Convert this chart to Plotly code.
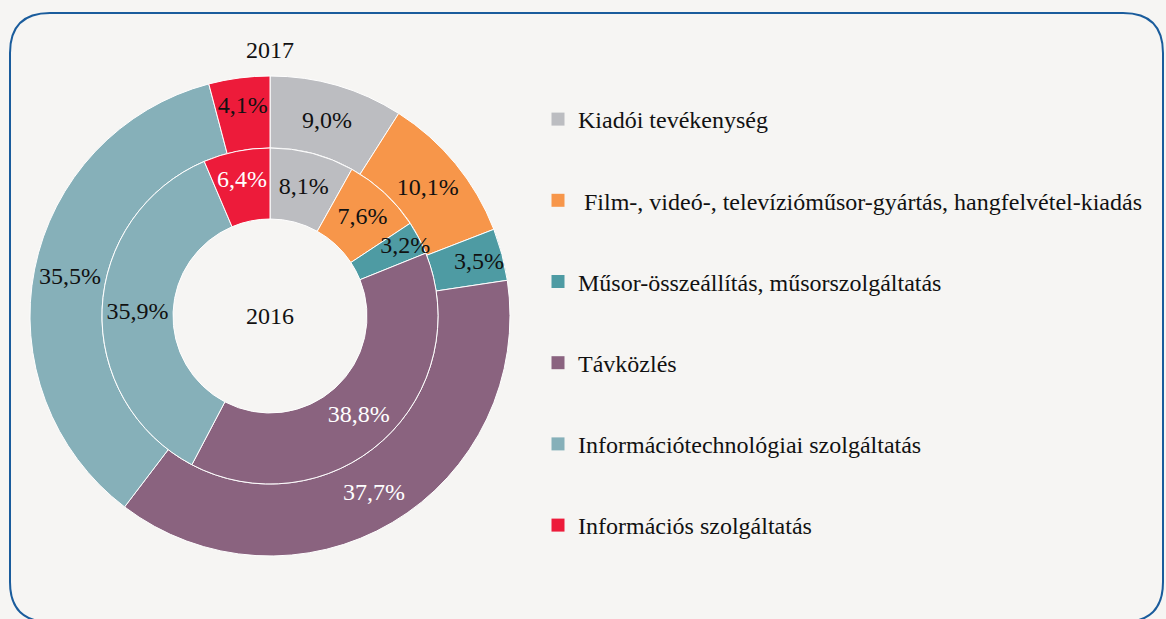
import plotly.graph_objects as go

labels = ["Kiadói tevékenység",
          " Film-, videó-, televízióműsor-gyártás, hangfelvétel-kiadás",
          "Műsor-összeállítás, műsorszolgáltatás",
          "Távközlés",
          "Információtechnológiai szolgáltatás",
          "Információs szolgáltatás"]
values_2017 = [9.0, 10.1, 3.5, 37.7, 35.5, 4.1]
values_2016 = [8.1, 7.6, 3.2, 38.8, 35.9, 6.4]
colors = ["#bcbdc1", "#f7964a", "#4e9ba3", "#8a637f", "#86b0b9", "#ed1b3a"]
text_col_2017 = ["#111", "#111", "#111", "#ffffff", "#111", "#111"]
text_col_2016 = ["#111", "#111", "#111", "#ffffff", "#111", "#ffffff"]

W, H = 1166, 619
FONT = "Liberation Serif"
FS = 24
BG = "#f6f5f3"

cx, cy = 270, 316
R_out, R_mid, R_in = 240, 168, 97

def dom(r):
    return dict(x=[(cx - r) / W, (cx + r) / W], y=[(H - cy - r) / H, (H - cy + r) / H])

fig = go.Figure()
fig.add_trace(go.Pie(labels=labels, values=values_2017, sort=False, direction="clockwise",
                     rotation=0, hole=R_mid / R_out, domain=dom(R_out),
                     marker=dict(colors=colors, line=dict(color="white", width=1)),
                     texttemplate="%{value:.1f}%", textposition="inside",
                     insidetextorientation="horizontal",
                     textfont=dict(family=FONT, size=FS, color=text_col_2017),
                     showlegend=False, name="2017"))
fig.add_trace(go.Pie(labels=labels, values=values_2016, sort=False, direction="clockwise",
                     rotation=0, hole=R_in / R_mid, domain=dom(R_mid),
                     marker=dict(colors=colors, line=dict(color="white", width=1)),
                     texttemplate="%{value:.1f}%", textposition="inside",
                     insidetextorientation="horizontal",
                     textfont=dict(family=FONT, size=FS, color=text_col_2016),
                     showlegend=False, name="2016"))

for lab, col in zip(labels, colors):
    fig.add_trace(go.Scatter(x=[None], y=[None], mode="markers", name=lab,
                             legendgroup=lab,
                             marker=dict(symbol="square", size=13, color=col)))

# rounded border
x0, x1 = 10 / W, 1163 / W
y0, y1 = 1 - 622 / H, 1 - 13 / H
rx, ry = 40 / W, 40 / H
path = (f"M {x0+rx},{y1} L {x1-rx},{y1} Q {x1},{y1} {x1},{y1-ry} "
        f"L {x1},{y0+ry} Q {x1},{y0} {x1-rx},{y0} L {x0+rx},{y0} "
        f"Q {x0},{y0} {x0},{y0+ry} L {x0},{y1-ry} Q {x0},{y1} {x0+rx},{y1} Z")
fig.add_shape(type="path", path=path, xref="paper", yref="paper",
              line=dict(color="#1a5c9c", width=2), layer="below")

fig.add_annotation(text="2017", x=cx / W, y=1 - 50 / H, xref="paper", yref="paper",
                   xanchor="center", yanchor="middle",
                   showarrow=False, font=dict(family=FONT, size=FS, color="#111"))
fig.add_annotation(text="2016", x=cx / W, y=1 - cy / H, xref="paper", yref="paper",
                   xanchor="center", yanchor="middle",
                   showarrow=False, font=dict(family=FONT, size=FS, color="#111"))

fig.update_layout(
    width=W, height=H, margin=dict(l=0, r=0, t=0, b=0),
    paper_bgcolor=BG, plot_bgcolor=BG,
    separators=", ",
    uniformtext=dict(minsize=FS, mode="show"),
    xaxis=dict(visible=False), yaxis=dict(visible=False),
    legend=dict(x=538 / W, y=1 - 97 / H, xanchor="left", yanchor="top",
                font=dict(family=FONT, size=FS, color="#111"),
                tracegroupgap=47, bgcolor="rgba(0,0,0,0)", itemwidth=30),
    font=dict(family=FONT),
)
fig.write_html("out.html", config={"displayModeBar": False},
               post_script="document.body.style.margin='0';document.body.style.overflow='hidden';")
